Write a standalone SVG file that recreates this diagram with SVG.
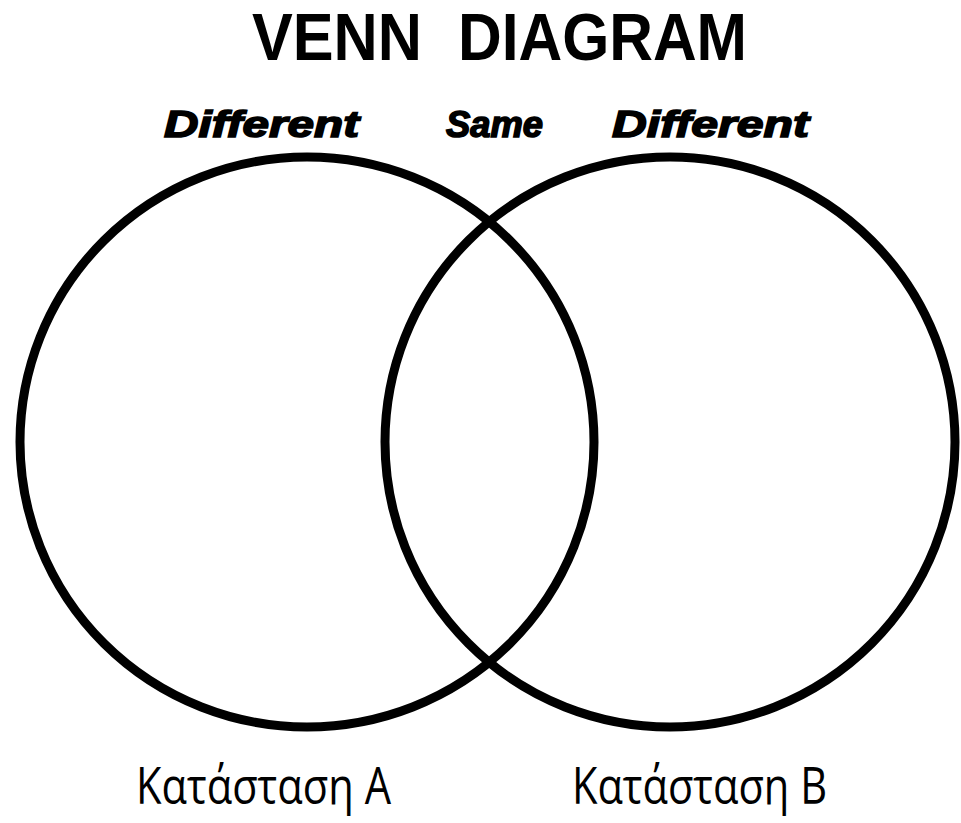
<svg xmlns="http://www.w3.org/2000/svg" width="961" height="823" viewBox="0 0 961 823">
<style>
.title{font-family:"Liberation Sans",Arial,sans-serif;font-weight:bold;font-size:67px;fill:#000}
.lbl{font-family:"Liberation Sans",Arial,sans-serif;font-weight:900;font-style:italic;font-size:37px;fill:#000;stroke:#000;stroke-width:1.6}
.circ{fill:none;stroke:#000;stroke-width:9}
.set{font-family:"Open Sans","Noto Sans",sans-serif;font-size:52px;fill:#000}
</style>
<rect width="961" height="823" fill="#fff"/>
<text class="title" y="60"><tspan x="252" textLength="170" lengthAdjust="spacingAndGlyphs">VENN</tspan> <tspan x="458" textLength="289" lengthAdjust="spacingAndGlyphs">DIAGRAM</tspan></text>
<g id="labels">
<text class="lbl" x="164" y="137" textLength="195" lengthAdjust="spacingAndGlyphs">Different</text>
<text class="lbl" x="446" y="137" textLength="97" lengthAdjust="spacingAndGlyphs">Same</text>
<text class="lbl" x="612" y="137" textLength="197" lengthAdjust="spacingAndGlyphs">Different</text>
</g>
<g id="setA">
<ellipse class="circ" cx="307" cy="442" rx="287" ry="285"/>
<text class="set" x="136" y="804" textLength="255" lengthAdjust="spacingAndGlyphs">Κατάσταση Α</text>
</g>
<g id="setB">
<ellipse class="circ" cx="670" cy="442" rx="285" ry="285"/>
<text class="set" x="572" y="804" textLength="255" lengthAdjust="spacingAndGlyphs">Κατάσταση Β</text>
</g>
</svg>
